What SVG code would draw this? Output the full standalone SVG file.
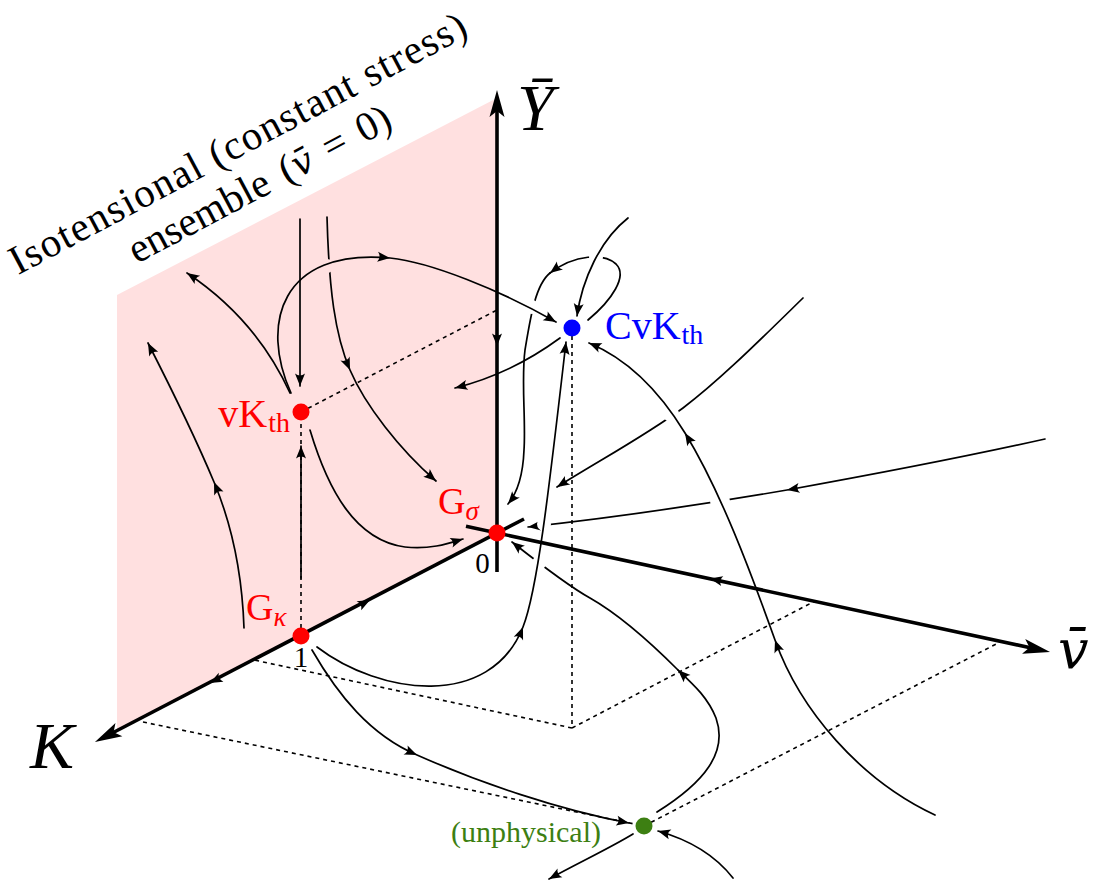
<svg xmlns="http://www.w3.org/2000/svg" xmlns:xlink="http://www.w3.org/1999/xlink" width="1102" height="886" viewBox="0 0 1102 886">
<style>
.flow{fill:none;stroke:#000;stroke-width:1.7;stroke-linecap:round}
.dash{fill:none;stroke:#000;stroke-width:1.6;stroke-dasharray:4 4}
.axis{fill:none;stroke:#000;stroke-width:3.6}
.me{marker-end:url(#ar)}
.mm{marker-mid:url(#ar)}
.ax{marker-end:url(#big)}
</style>
<defs>
<path id="ah" d="M0,0 L-12.5,-5 Q-8.5,0 -12.5,5 Z"/>
<marker id="ar" markerUnits="userSpaceOnUse" viewBox="-14 -7 16 14" markerWidth="16" markerHeight="14" refX="0" refY="0" orient="auto" overflow="visible"><path d="M0,0 L-12.5,-5 Q-8.5,0 -12.5,5 Z"/></marker>
<marker id="big" markerUnits="userSpaceOnUse" viewBox="-20 -10 34 20" markerWidth="34" markerHeight="20" refX="0" refY="0" orient="auto" overflow="visible"><path d="M12,0 L-15,-7.5 L-9,0 L-15,7.5 Z"/></marker>
<mask id="mD" maskUnits="userSpaceOnUse" x="0" y="0" width="1102" height="886"><rect width="1102" height="886" fill="#fff"/><circle cx="327" cy="266" r="7" fill="#000"/></mask>
<mask id="mH1" maskUnits="userSpaceOnUse" x="0" y="0" width="1102" height="886"><rect width="1102" height="886" fill="#fff"/><circle cx="596" cy="257" r="7" fill="#000"/></mask>
<mask id="mH2" maskUnits="userSpaceOnUse" x="0" y="0" width="1102" height="886"><rect width="1102" height="886" fill="#fff"/><circle cx="532" cy="307" r="7" fill="#000"/></mask>
<mask id="mL" maskUnits="userSpaceOnUse" x="0" y="0" width="1102" height="886"><rect width="1102" height="886" fill="#fff"/><circle cx="539" cy="563" r="7" fill="#000"/></mask>
<mask id="mM" maskUnits="userSpaceOnUse" x="0" y="0" width="1102" height="886"><rect width="1102" height="886" fill="#fff"/><circle cx="544" cy="524" r="7" fill="#000"/><circle cx="720" cy="501" r="10" fill="#000"/></mask>
<mask id="mN" maskUnits="userSpaceOnUse" x="0" y="0" width="1102" height="886"><rect width="1102" height="886" fill="#fff"/><circle cx="671" cy="414" r="8" fill="#000"/></mask>
</defs>

<g id="plane">
<polygon points="117,295 497,98 497,533 117,731" fill="#ffe0e0"/>
</g>

<g id="title" font-family="Liberation Serif, Times New Roman, DejaVu Serif, serif" font-size="41" text-anchor="middle">
<g transform="translate(244,155) rotate(-28)">
<text font-family="Liberation Serif, Times New Roman, DejaVu Serif, serif" x="0" y="0" textLength="512" lengthAdjust="spacing">Isotensional (constant stress)</text>
<text font-family="Liberation Serif, Times New Roman, DejaVu Serif, serif" x="0" y="46" word-spacing="5">ensemble (<tspan font-family="DejaVu Serif, serif" font-style="italic" font-size="36">v̄</tspan> = 0)</text>
</g>
</g>

<g id="guides">
<line class="dash" x1="301" y1="412" x2="497" y2="310"/>
<line class="dash" x1="301" y1="636" x2="301" y2="412"/>
<line class="dash" x1="572" y1="328" x2="572" y2="728"/>
<line class="dash" x1="572" y1="728" x2="815" y2="601"/>
<line class="dash" x1="572" y1="728" x2="254" y2="660"/>
<line class="dash" x1="143" y1="722" x2="644" y2="826"/>
<line class="dash" x1="644" y1="826" x2="1000" y2="642"/>
</g>

<g id="axes">
<line class="axis ax" x1="497" y1="572" x2="497" y2="102"/>
<line class="axis ax" x1="524" y1="519" x2="105.6" y2="736.5"/>
<line class="axis ax" x1="466" y1="526.3" x2="1038.3" y2="649.5"/>
<use xlink:href="#ah" href="#ah" transform="translate(497,346) rotate(90)"/>
<use xlink:href="#ah" href="#ah" transform="translate(370,600) rotate(-27.5)"/>
<use xlink:href="#ah" href="#ah" transform="translate(210,683) rotate(152.5)"/>
<use xlink:href="#ah" href="#ah" transform="translate(710,578.5) rotate(192.1)"/>
<text font-family="Liberation Serif, Times New Roman, serif" font-size="66" font-style="italic" x="517" y="130">Ȳ</text>
<text font-family="Liberation Serif, Times New Roman, serif" font-size="66" font-style="italic" x="30" y="768">K</text>
<text font-family="DejaVu Serif, serif" font-size="54" font-style="italic" x="1058" y="668">v̄</text>
<text font-family="Liberation Serif, Times New Roman, serif" font-size="29" text-anchor="middle" x="482.5" y="573">0</text>
<text font-family="Liberation Serif, Times New Roman, serif" font-size="29" text-anchor="middle" x="301" y="667">1</text>
</g>

<g id="connectors">
<path class="flow me mm" d="M244,628 C242,570 232,525 214,482 C196,439 172,390 148,343"/>
<path class="flow me" d="M290,393 C268,345 235,305 187,273"/>
<path class="flow me" d="M300,219 L300,386"/>
<path class="flow me" d="M301,578 L301,446"/>
<path class="flow me mm" mask="url(#mD)" d="M327,217 C329,290 335,335 350,370 C365,405 400,450 436,481"/>
<path class="flow me" d="M310,430 C328,490 355,540 405,547 C430,550 450,543 463,539"/>
<path class="flow me mm" d="M291,393 C260,325 280,248 390,258 C430,262 500,290 556,322"/>
<path class="flow me" d="M628,218 C600,240 582,280 577,316"/>
<path class="flow me" mask="url(#mH1)" d="M588,320 C612,300 628,276 616,264 C604,253 575,254 550,273"/>
<path class="flow me" mask="url(#mH2)" d="M550,273 C535,285 530,320 525,350 C521,380 526,420 524,450 C523,475 518,492 508,504"/>
<path class="flow me" d="M560,338 C530,360 495,378 455,388"/>
<path class="flow me mm" d="M317,647 C380,695 490,710 523,627 C538,589 550,480 566,342"/>
<path class="flow me mm" d="M312,650 C338,695 370,735 417,755 C480,783 560,810 629,823"/>
<path class="flow me" mask="url(#mL)" d="M657,812 C705,782 728,752 716,718 C708,698 695,686 678,670"/>
<path class="flow me" mask="url(#mL)" d="M678,670 C650,642 620,615 590,598 C570,587 545,568 512,542"/>
<path class="flow me mm" mask="url(#mM)" d="M1045,439 C960,458 870,475 787,490 C700,505 610,518 528,527"/>
<path class="flow me" mask="url(#mN)" d="M803,298 C760,340 720,380 683,408 C645,436 600,460 557,487"/>
<path class="flow me mm" d="M935,815 C860,780 800,710 775,640 C750,570 720,490 685,433 C660,392 630,360 589,343"/>
<path class="flow me" d="M633,834 C610,848 580,862 549,879"/>
<path class="flow me" d="M733,878 C715,855 690,840 658,831"/>
</g>

<g id="G_sigma">
<circle cx="497" cy="533" r="8.5" fill="#ff0000"/>
<text font-family="Liberation Serif, Times New Roman, serif" font-size="38" fill="#ff0000" x="438" y="514">G<tspan font-size="27" font-style="italic" dy="6">σ</tspan></text>
</g>
<g id="G_kappa">
<circle cx="301" cy="636" r="8.5" fill="#ff0000"/>
<text font-family="Liberation Serif, Times New Roman, serif" font-size="38" fill="#ff0000" x="246" y="620">G<tspan font-size="27" font-style="italic" dy="6">κ</tspan></text>
</g>
<g id="vKth">
<circle cx="301" cy="412" r="8.5" fill="#ff0000"/>
<text font-family="Liberation Serif, Times New Roman, serif" font-size="40" fill="#ff0000" x="290" y="427" text-anchor="end">vK<tspan font-size="28" dx="1" dy="5">th</tspan></text>
</g>
<g id="CvKth">
<circle cx="572" cy="328" r="8.5" fill="#0000ff"/>
<text font-family="Liberation Serif, Times New Roman, serif" font-size="40" fill="#0000ff" x="605" y="339">CvK<tspan font-size="28" dx="1" dy="5">th</tspan></text>
</g>
<g id="unphysical">
<circle cx="644" cy="826" r="8.5" fill="#3d7f12"/>
<text font-family="Liberation Serif, Times New Roman, serif" font-size="30" fill="#3d7f12" x="601" y="842" text-anchor="end">(unphysical)</text>
</g>
</svg>
